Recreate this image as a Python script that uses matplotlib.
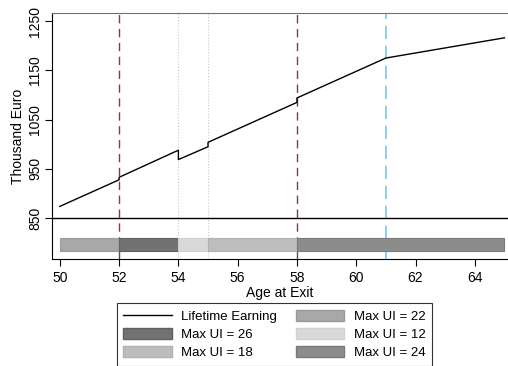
import numpy as np
import matplotlib.pyplot as plt
from matplotlib.patches import Patch
from matplotlib.lines import Line2D

plt.rcParams['font.family'] = ['Liberation Sans', 'DejaVu Sans']

# lifetime earning path (thousand euro), jumps at 52, 54, 55, 58
age = [50, 52, 52, 54, 54, 55, 55, 58, 58, 61, 65]
earn = [874, 928, 933, 988, 969, 995, 1004, 1085, 1094, 1175, 1216]

# max UI duration segments
seg_start = [50, 52, 54, 55, 58]
seg_end = [52, 54, 55, 58, 65]
seg_ui = [22, 26, 12, 18, 24]
ui_color = {22: '#a8a8a8', 26: '#727272', 12: '#d9d9d9', 18: '#bdbdbd', 24: '#8c8c8c'}
ui_edge = {22: '#9a9a9a', 26: '#606060', 12: '#d0d0d0', 18: '#b2b2b2', 24: '#7a7a7a'}

red_lines = [52, 58]
dot_lines = [54, 55]
blue_lines = [61]

fig = plt.figure(figsize=(5.08, 3.66), dpi=100)
ax = fig.add_axes([0.102, 0.292, 0.898, 0.672])

for x in red_lines:
    ax.axvline(x, color='#9b3040', ls=(0, (6, 4)), lw=1.0, zorder=1)
for x in dot_lines:
    ax.axvline(x, color='#c8c8c8', ls=':', lw=0.8, zorder=1)
for x in blue_lines:
    ax.axvline(x, color='#7ec3ee', ls=(0, (8, 4)), lw=1.2, zorder=1)

ax.axhline(850, color='black', lw=1.0, zorder=2)

for s, e, u in zip(seg_start, seg_end, seg_ui):
    ax.barh(796, e - s, left=s, height=26, color=ui_color[u],
            edgecolor=ui_edge[u], lw=0.8, zorder=3)

ax.plot(age, earn, color='black', lw=1.0, zorder=4)

ax.set_xlim(49.73, 65.12)
ax.set_ylim(767, 1266)
ax.set_xticks(np.arange(50, 65, 2))
ax.set_yticks([850, 950, 1050, 1150, 1250])
for lab in ax.get_yticklabels():
    lab.set_rotation(90)
    lab.set_va('center')
ax.tick_params(labelsize=10, length=5, direction='out')
ax.tick_params(axis='y', pad=2)
ax.set_xlabel('Age at Exit', fontsize=10, labelpad=1)
ax.set_ylabel('Thousand Euro', fontsize=10, labelpad=2)
ax.spines['right'].set_visible(False)
ax.spines['top'].set_color('#707070')

handles = [Line2D([], [], color='black', lw=1.0),
           Patch(facecolor=ui_color[26], edgecolor=ui_edge[26]),
           Patch(facecolor=ui_color[18], edgecolor=ui_edge[18]),
           Patch(facecolor=ui_color[22], edgecolor=ui_edge[22]),
           Patch(facecolor=ui_color[12], edgecolor=ui_edge[12]),
           Patch(facecolor=ui_color[24], edgecolor=ui_edge[24])]
labels = ['Lifetime Earning', 'Max UI = 26', 'Max UI = 18',
          'Max UI = 22', 'Max UI = 12', 'Max UI = 24']
leg = fig.legend(handles, labels, ncol=2, loc='upper center',
                 bbox_to_anchor=(0.54, 0.19), fontsize=9.5, frameon=True,
                 fancybox=False, edgecolor='black', handlelength=3.7,
                 handleheight=0.9, handletextpad=0.7, columnspacing=1.4,
                 labelspacing=0.4, borderpad=0.5)
leg.get_frame().set_linewidth(0.8)

fig.savefig('out.png', dpi=100)
